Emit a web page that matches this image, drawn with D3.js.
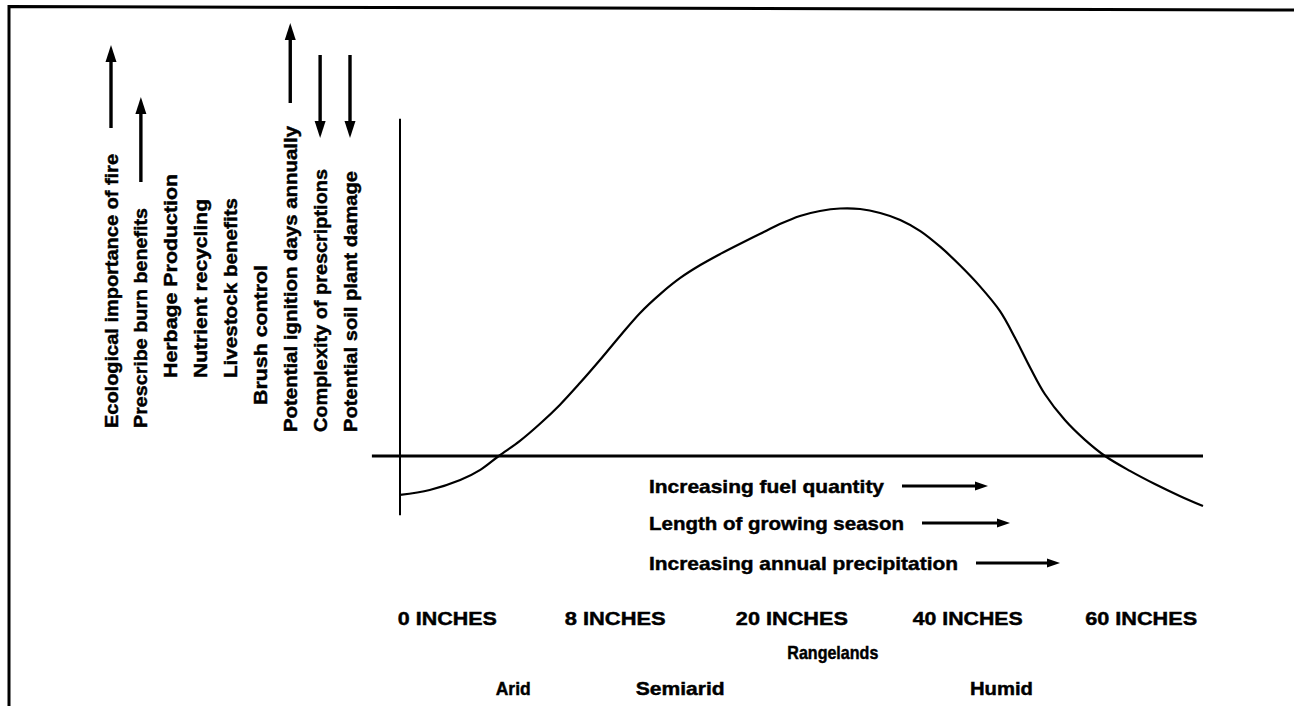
<!DOCTYPE html>
<html><head><meta charset="utf-8">
<script src="https://cdn.jsdelivr.net/npm/d3@7"></script>
<style>
body{margin:0;background:#fff}
svg{display:block}
text{font-family:"Liberation Sans",Arial,Helvetica,sans-serif;font-weight:bold;fill:#000;stroke:#000;stroke-width:0.45px}
</style>
</head><body>
<svg id="c" width="1294" height="706"></svg>
<script>
// ---- data (x: relative position along moisture gradient, y: relative fire response) ----
const curveX = [0, 3.7, 7.5, 10.0, 12.3, 14.9, 17.4, 19.9, 22.4, 24.9, 27.4, 29.9, 32.4, 34.9, 37.4, 39.9, 42.3, 44.8, 47.3, 49.8, 52.3, 54.8, 57.3, 59.8, 62.3, 64.8, 67.3, 69.7, 72.2, 74.7, 76.6, 78.5, 80.3, 82.8, 85.3, 87.8, 90.9, 94.0, 97.1, 100];
const curveY = [-15.7, -13.7, -9.7, -5.6, 0, 6.0, 12.9, 20.6, 29.4, 38.7, 48.4, 57.7, 65.3, 71.8, 77.0, 81.5, 85.5, 89.5, 93.5, 96.8, 98.8, 99.8, 99.6, 98.0, 95.2, 90.7, 84.3, 77.0, 68.5, 58.5, 47.6, 35.5, 25.0, 14.5, 6.5, 0, -6.0, -11.3, -16.1, -20.2];

const factorLabels = ["Ecological importance of fire", "Prescribe burn benefits", "Herbage Production", "Nutrient recycling", "Livestock benefits", "Brush control", "Potential ignition days annually", "Complexity of prescriptions", "Potential soil plant damage"];
const factorTrend = [1, 1, 0, 0, 0, 0, 1, -1, -1];

const gradientLabels = ["Increasing fuel quantity", "Length of growing season", "Increasing annual precipitation"];

const precipLabels = ["0 INCHES", "8 INCHES", "20 INCHES", "40 INCHES", "60 INCHES"];
const precipAt = [5.9, 26.8, 48.8, 70.7, 92.3];
const regionLabels = ["Rangelands"];
const regionAt = [53.9];
const climateLabels = ["Arid", "Semiarid", "Humid"];
const climateAt = [14.1, 34.9, 74.9];

// ---- drawing ----
const svg = d3.select("#c");
const x = d3.scaleLinear().domain([0, 100]).range([400, 1203]);
const y = d3.scaleLinear().domain([0, 100]).range([456, 208]);

// frame
svg.append("path").attr("d", "M9,706 L9,6.5 L1294,10").attr("fill", "none").attr("stroke", "#000").attr("stroke-width", 3);

// axes
svg.append("line").attr("x1", x(-3.5)).attr("x2", x(100)).attr("y1", y(0)).attr("y2", y(0))
  .attr("stroke", "#000").attr("stroke-width", 3);
svg.append("line").attr("x1", x(0)).attr("x2", x(0)).attr("y1", y(136)).attr("y2", y(-23.9))
  .attr("stroke", "#000").attr("stroke-width", 2);

// curve
const pts = curveX.map((d, i) => [d, curveY[i]]);
svg.append("path").datum(pts)
  .attr("d", d3.line().x(d => x(d[0])).y(d => y(d[1])).curve(d3.curveCatmullRom.alpha(0.5)))
  .attr("fill", "none").attr("stroke", "#000").attr("stroke-width", 2.2);

function vArrow(cx, yTail, yHead) {
  const dir = yHead < yTail ? -1 : 1;
  const hl = 17, hw = 5.5;
  svg.append("line").attr("x1", cx).attr("x2", cx).attr("y1", yTail).attr("y2", yHead - dir * hl * 0.6)
    .attr("stroke", "#000").attr("stroke-width", 3.4);
  svg.append("path").attr("d", `M${cx},${yHead} L${cx - hw},${yHead - dir * hl} L${cx + hw},${yHead - dir * hl} Z`).attr("fill", "#000");
}
function hArrow(x1, x2, cy) {
  const hl = 13, hw = 4.5;
  svg.append("line").attr("x1", x1).attr("x2", x2 - hl * 0.6).attr("y1", cy).attr("y2", cy)
    .attr("stroke", "#000").attr("stroke-width", 3);
  svg.append("path").attr("d", `M${x2},${cy} L${x2 - hl},${cy - hw} L${x2 - hl},${cy + hw} Z`).attr("fill", "#000");
}

// vertical factor labels
const colX = d3.scalePoint().domain(factorLabels).range([111, 350]);
const colLayout = [
  {bottom: 428, len: 274, arrow: [128, 45]},
  {bottom: 428, len: 220, arrow: [182, 97]},
  {bottom: 378, len: 204},
  {bottom: 378, len: 179},
  {bottom: 378, len: 180},
  {bottom: 405, len: 140},
  {bottom: 432, len: 306, arrow: [103, 23]},
  {bottom: 432, len: 263, arrow: [55, 138]},
  {bottom: 432, len: 261, arrow: [55, 138]}
];
factorLabels.forEach((lab, i) => {
  const cx = colX(lab);
  const L = colLayout[i];
  svg.append("text")
    .attr("transform", `translate(${cx + 6.5},${L.bottom}) rotate(-90)`)
    .attr("font-size", 19)
    .attr("textLength", L.len).attr("lengthAdjust", "spacingAndGlyphs")
    .text(lab);
  if (factorTrend[i] !== 0) {
    const a = L.arrow;
    if (factorTrend[i] > 0) vArrow(cx, Math.max(a[0], a[1]), Math.min(a[0], a[1]));
    else vArrow(cx, Math.min(a[0], a[1]), Math.max(a[0], a[1]));
  }
});

// gradient annotations with arrows
const gradLayout = [
  {y: 493, len: 235, a: [902, 988]},
  {y: 530, len: 255, a: [922, 1010]},
  {y: 570, len: 309, a: [976, 1060]}
];
gradientLabels.forEach((lab, i) => {
  const g = gradLayout[i];
  svg.append("text").attr("x", 649).attr("y", g.y).attr("font-size", 19)
    .attr("textLength", g.len).attr("lengthAdjust", "spacingAndGlyphs").text(lab);
  hArrow(g.a[0], g.a[1], g.y - 7);
});

// precipitation labels
const precipW = [99, 101, 112, 110, 112];
precipLabels.forEach((lab, i) => {
  svg.append("text").attr("x", x(precipAt[i])).attr("y", 625).attr("text-anchor", "middle")
    .attr("font-size", 19).attr("textLength", precipW[i]).attr("lengthAdjust", "spacingAndGlyphs").text(lab);
});
regionLabels.forEach((lab, i) => {
  svg.append("text").attr("x", x(regionAt[i])).attr("y", 659).attr("text-anchor", "middle")
    .attr("font-size", 19).attr("textLength", 91).attr("lengthAdjust", "spacingAndGlyphs").text(lab);
});
const climW = [35, 89, 63];
climateLabels.forEach((lab, i) => {
  svg.append("text").attr("x", x(climateAt[i])).attr("y", 695).attr("text-anchor", "middle")
    .attr("font-size", 19).attr("textLength", climW[i]).attr("lengthAdjust", "spacingAndGlyphs").text(lab);
});
</script>
</body></html>
